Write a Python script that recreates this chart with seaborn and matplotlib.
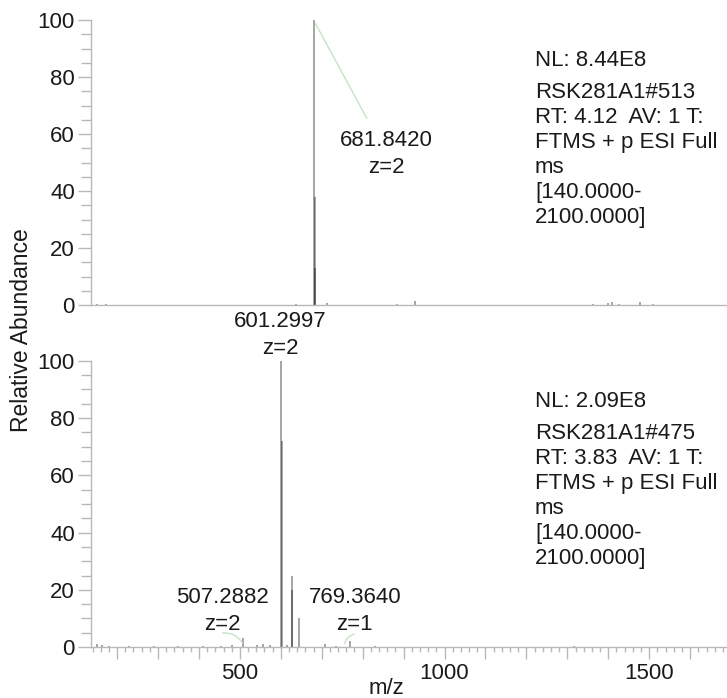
#!/usr/bin/env python3

# Two stacked mass spectra, Xcalibur style.

import matplotlib

matplotlib.use("Agg")
import matplotlib.pyplot as plt
from matplotlib.ticker import MultipleLocator, FuncFormatter
import pandas as pd
import seaborn as sns

# top spectrum (scan #513)
TOP_MZ = [681.842, 682.343, 682.844, 150, 172, 636, 713, 885, 927,
          1362, 1399, 1409, 1426, 1478, 1510]
TOP_INT = [100, 38, 13, 0.5, 0.4, 0.5, 0.7, 0.5, 1.3,
           0.5, 0.8, 1.0, 0.5, 1.0, 0.5]

# bottom spectrum (scan #475)
BOT_MZ = [601.300, 601.801, 627.3, 627.8, 644.9, 507.288, 769.364,
          150, 162, 181, 230, 290, 350, 410, 455, 480, 543, 557, 574,
          615, 708, 735, 830, 1316]
BOT_INT = [100, 72, 25, 20, 10, 3, 2,
           1.0, 0.6, 0.5, 0.4, 0.4, 0.4, 0.5, 0.5, 0.7, 0.8, 1.0, 0.7,
           0.6, 1.0, 0.5, 0.4, 0.5]

TOP_INFO = ["NL: 8.44E8", "RSK281A1#513", "RT: 4.12  AV: 1 T:",
            "FTMS + p ESI Full", "ms", "[140.0000-", "2100.0000]"]
BOT_INFO = ["NL: 2.09E8", "RSK281A1#475", "RT: 3.83  AV: 1 T:",
            "FTMS + p ESI Full", "ms", "[140.0000-", "2100.0000]"]

XMIN, XMAX = 136, 1690
GREY = "#b8b8b8"
TXT = "#1a1a1a"
GREEN = "#c6e3c6"
FS = 16

sns.set_theme(style="ticks")
plt.rcParams["font.family"] = ["Liberation Sans", "DejaVu Sans"]


def style_axis(ax, xticks):
    ax.set_xlim(XMIN, XMAX)
    ax.set_ylim(0, 100)
    sns.despine(ax=ax)
    for side in ("left", "bottom"):
        ax.spines[side].set_color(GREY)
        ax.spines[side].set_linewidth(1.0)
    ax.yaxis.set_major_locator(MultipleLocator(20))
    ax.yaxis.set_minor_locator(MultipleLocator(5))
    ax.tick_params(axis="y", which="major", length=9.5, width=1.0,
                   color=GREY, labelsize=FS, labelcolor=TXT, pad=2)
    ax.tick_params(axis="y", which="minor", length=7, width=1.0, color=GREY)
    if xticks:
        ax.xaxis.set_major_locator(MultipleLocator(100))
        ax.xaxis.set_minor_locator(MultipleLocator(20))
        ax.xaxis.set_major_formatter(
            FuncFormatter(lambda v, p: f"{v:.0f}" if v % 500 == 0 else ""))
        ax.tick_params(axis="x", which="major", length=6.5, width=1.0,
                       color=GREY, labelsize=FS, labelcolor=TXT, pad=5)
        ax.tick_params(axis="x", which="minor", length=3.5, width=1.0,
                       color=GREY)
        for t in ax.xaxis.get_major_ticks():
            if round(t.get_loc()) % 500 == 0:
                t.tick1line.set_markersize(8.5)
    else:
        ax.set_xticks([])


def draw_spectrum(ax, df):
    ax.vlines(df["mz"], 0, df["intensity"], color="black", alpha=0.38,
              linewidth=1.3)


def info_block(ax, lines):
    ax.text(1221, 83.8, lines[0], fontsize=FS, color=TXT, va="baseline")
    ax.text(1221, 78.4, "\n".join(lines[1:]), fontsize=FS, color=TXT,
            va="top", linespacing=1.25)


def peak_label(ax, text, x, y):
    ax.text(x, y, text, ha="center", va="center", fontsize=FS, color=TXT,
            linespacing=1.4, clip_on=False)


def connector(ax, start, end, rad=0.0):
    ax.annotate("", xy=start, xytext=end,
                arrowprops=dict(arrowstyle="-", color=GREEN, lw=1,
                                shrinkA=0, shrinkB=0,
                                connectionstyle=f"arc3,rad={rad}"))


fig = plt.figure(figsize=(7.27, 6.98), dpi=100)
ax_top = fig.add_axes([0.125, 0.563, 0.875, 0.408])
ax_bot = fig.add_axes([0.125, 0.073, 0.875, 0.410])

top = pd.DataFrame({"mz": TOP_MZ, "intensity": TOP_INT})
bot = pd.DataFrame({"mz": BOT_MZ, "intensity": BOT_INT})

draw_spectrum(ax_top, top)
draw_spectrum(ax_bot, bot)
style_axis(ax_top, xticks=False)
style_axis(ax_bot, xticks=True)

# peak labels
peak_label(ax_top, "681.8420\nz=2", 857, 53)
connector(ax_top, (684, 99), (810, 65.6))
peak_label(ax_bot, "601.2997\nz=2", 598, 109)
peak_label(ax_bot, "507.2882\nz=2", 458, 12.6)
connector(ax_bot, (458, 4.9), (506, 1.5), rad=0.3)
peak_label(ax_bot, "769.3640\nz=1", 781, 12.6)
connector(ax_bot, (756, 1.2), (780, 4.5), rad=0.3)

info_block(ax_top, TOP_INFO)
info_block(ax_bot, BOT_INFO)

ax_bot.set_xlabel("m/z", fontsize=FS, color=TXT)
ax_bot.xaxis.set_label_coords(0.464, -0.108)
fig.text(0.029, 0.527, "Relative Abundance", rotation=90, fontsize=16.5,
         color=TXT, ha="center", va="center")

fig.savefig("out.png", dpi=100)
